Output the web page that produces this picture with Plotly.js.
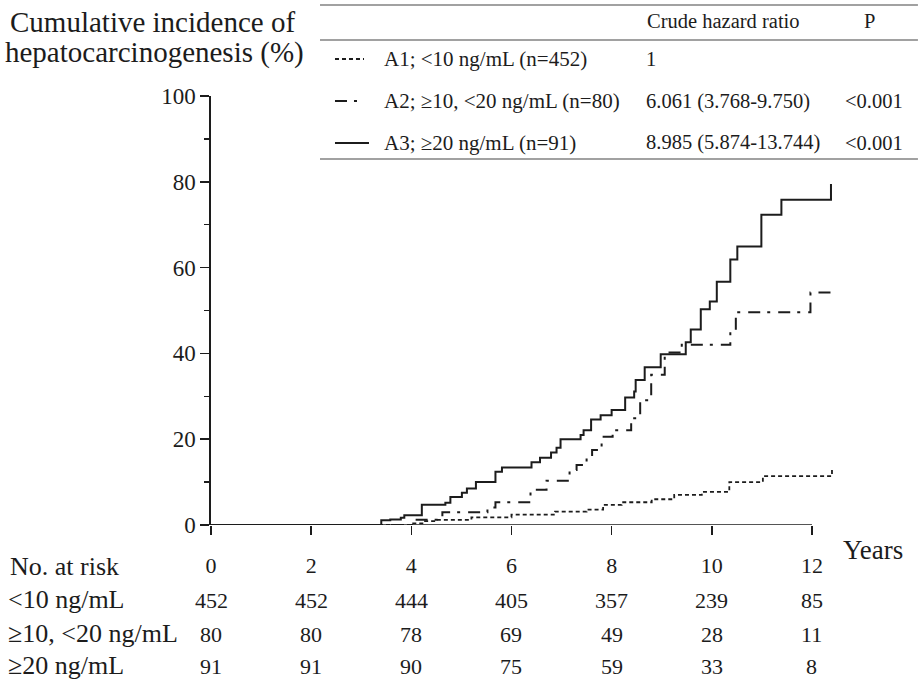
<!DOCTYPE html>
<html>
<head>
<meta charset="utf-8">
<script src="https://cdn.plot.ly/plotly-3.0.1.min.js"></script>
<style>
html,body{margin:0;padding:0;background:#fff;}
#chart{width:922px;height:683px;}
</style>
</head>
<body>
<div id="chart"></div>
<script>
// ---------- data ----------
const yearTicks = [0, 2, 4, 6, 8, 10, 12];

// A1: <10 ng/mL (dotted)
const a1Years = [0, 4.00, 4.25, 4.50, 5.20, 6.00, 6.87, 7.50, 7.83, 8.20, 8.80, 9.25, 9.80, 10.35, 11.02, 12.40];
const a1Incidence = [0, 0.4, 0.9, 1.2, 1.8, 2.4, 3.1, 3.6, 4.7, 5.3, 6.0, 7.0, 7.7, 10.0, 11.4, 12.8];

// A2: >=10, <20 ng/mL (dash-dot)
const a2Years = [0, 4.05, 4.62, 5.52, 5.68, 6.38, 6.70, 7.16, 7.30, 7.50, 7.61, 7.80, 8.02, 8.39, 8.57, 8.79, 9.06, 9.40, 10.37, 10.48, 11.97, 12.43];
const a2Incidence = [0, 1.25, 3.0, 4.1, 5.3, 8.2, 10.3, 12.8, 14.0, 15.5, 17.5, 20.6, 22.1, 24.9, 29.1, 35.0, 40.2, 42.0, 45.1, 49.6, 54.2, 54.2];

// A3: >=20 ng/mL (solid)
const a3Years = [0, 3.40, 3.58, 3.79, 3.86, 4.21, 4.68, 4.78, 5.01, 5.11, 5.29, 5.68, 5.81, 6.40, 6.57, 6.79, 6.90, 6.98, 7.38, 7.44, 7.59, 7.78, 8.00, 8.27, 8.45, 8.48, 8.66, 8.98, 9.48, 9.58, 9.78, 9.96, 10.10, 10.37, 10.51, 10.99, 11.39, 12.38];
const a3Incidence = [0, 1.1, 1.3, 1.7, 2.3, 4.7, 5.2, 6.5, 7.5, 8.5, 10.0, 12.4, 13.4, 14.6, 15.7, 16.9, 18.0, 20.0, 21.0, 22.1, 24.6, 25.6, 26.8, 29.7, 31.1, 33.8, 36.8, 39.8, 42.6, 45.6, 50.3, 52.1, 56.7, 61.9, 64.9, 72.3, 75.8, 79.5];

// number at risk
const riskLabels = ["<10 ng/mL", "\u226510, <20 ng/mL", "\u226520 ng/mL"];
const riskA1 = [452, 452, 444, 405, 357, 239, 85];
const riskA2 = [80, 80, 78, 69, 49, 28, 11];
const riskA3 = [91, 91, 90, 75, 59, 33, 8];

// legend table
const groupLabels = ["A1; <10 ng/mL (n=452)", "A2; \u226510, <20 ng/mL (n=80)", "A3; \u226520 ng/mL (n=91)"];
const hazardRatios = ["1", "6.061 (3.768-9.750)", "8.985 (5.874-13.744)"];
const pValues = ["", "<0.001", "<0.001"];

// ---------- styling / geometry ----------
const FONT = "Liberation Serif";
const INK = "#1c1c1c";
const W = 922, H = 683;
const ML = 211, MT = 96, MB = 158;
const XMAX = 12.6;
const PXPERYEAR = (812 - 211) / 12;
const plotW = XMAX * PXPERYEAR;
const MR = W - ML - plotW;
const plotH = H - MT - MB;
const px2paperX = px => (px - ML) / plotW;
const px2paperY = py => (H - MB - py) / plotH;

const dashStyles = ["4px,3px", "12px,7px,3px,8px", "solid"];
const lineWidths = [1.8, 2, 2];

const traces = [
  {x: a1Years, y: a1Incidence},
  {x: a2Years, y: a2Incidence},
  {x: a3Years, y: a3Incidence}
].map((d, i) => ({
  x: d.x, y: d.y, type: "scatter", mode: "lines",
  line: {shape: "hv", color: INK, width: lineWidths[i], dash: dashStyles[i]},
  showlegend: false, hoverinfo: "skip", cliponaxis: false
}));

const annotations = [];
const shapes = [];

// y axis title (two lines)
annotations.push({xref: "paper", yref: "paper", x: px2paperX(152), y: px2paperY(22),
  text: "Cumulative incidence of", showarrow: false, xanchor: "center", yanchor: "middle",
  font: {family: FONT, size: 29, color: INK}});
annotations.push({xref: "paper", yref: "paper", x: px2paperX(154), y: px2paperY(53),
  text: "hepatocarcinogenesis (%)", showarrow: false, xanchor: "center", yanchor: "middle",
  font: {family: FONT, size: 29, color: INK}});

// Years label
annotations.push({xref: "paper", yref: "paper", x: px2paperX(873), y: px2paperY(550),
  text: "Years", showarrow: false, xanchor: "center", yanchor: "middle",
  font: {family: FONT, size: 27, color: INK}});

// risk table
annotations.push({xref: "paper", yref: "paper", x: px2paperX(8), y: px2paperY(566),
  text: "No. at risk", showarrow: false, xanchor: "left", yanchor: "middle",
  font: {family: FONT, size: 26, color: INK}});
const riskRowsY = [599, 633, 665];
const riskRows = [riskA1, riskA2, riskA3];
riskLabels.forEach((lab, r) => {
  annotations.push({xref: "paper", yref: "paper", x: px2paperX(6), y: px2paperY(riskRowsY[r]),
    text: lab, showarrow: false, xanchor: "left", yanchor: "middle",
    font: {family: FONT, size: 26, color: INK}});
  riskRows[r].forEach((n, k) => {
    annotations.push({xref: "x", yref: "paper", x: yearTicks[k], y: px2paperY(riskRowsY[r] + 1),
      text: String(n), showarrow: false, xanchor: "center", yanchor: "middle",
      font: {family: FONT, size: 22, color: INK}});
  });
});

// legend table
const tblRules = [5, 40, 159];
tblRules.forEach(py => shapes.push({type: "line", xref: "paper", yref: "paper",
  x0: px2paperX(320), x1: px2paperX(918), y0: px2paperY(py), y1: px2paperY(py),
  line: {color: "#444", width: 1.2}}));
annotations.push({xref: "paper", yref: "paper", x: px2paperX(645), y: px2paperY(21),
  text: "Crude hazard ratio", showarrow: false, xanchor: "left", yanchor: "middle",
  font: {family: FONT, size: 20.5, color: INK}});
annotations.push({xref: "paper", yref: "paper", x: px2paperX(870), y: px2paperY(21),
  text: "P", showarrow: false, xanchor: "center", yanchor: "middle",
  font: {family: FONT, size: 20.5, color: INK}});
const tblRowsY = [59, 101, 143];
const sampleEnds = [364, 364, 369];
groupLabels.forEach((lab, r) => {
  const py = tblRowsY[r];
  shapes.push({type: "line", xref: "paper", yref: "paper",
    x0: px2paperX(335), x1: px2paperX(sampleEnds[r]), y0: px2paperY(py), y1: px2paperY(py),
    line: {color: INK, width: lineWidths[r], dash: dashStyles[r]}});
  annotations.push({xref: "paper", yref: "paper", x: px2paperX(382), y: px2paperY(py),
    text: lab, showarrow: false, xanchor: "left", yanchor: "middle",
    font: {family: FONT, size: 21, color: INK}});
  annotations.push({xref: "paper", yref: "paper", x: px2paperX(644), y: px2paperY(py),
    text: hazardRatios[r], showarrow: false, xanchor: "left", yanchor: "middle",
    font: {family: FONT, size: 20.5, color: INK}});
  if (pValues[r]) annotations.push({xref: "paper", yref: "paper", x: px2paperX(843), y: px2paperY(py),
    text: pValues[r], showarrow: false, xanchor: "left", yanchor: "middle",
    font: {family: FONT, size: 20.5, color: INK}});
});

// x axis line only from 0 to 12
shapes.push({type: "line", xref: "x", yref: "y", x0: yearTicks[0], x1: yearTicks[yearTicks.length - 1], y0: 0, y1: 0,
  line: {color: INK, width: 1.6}, layer: "above"});

const layout = {
  width: W, height: H,
  margin: {l: ML, r: MR, t: MT, b: MB, pad: 0},
  paper_bgcolor: "#fff", plot_bgcolor: "rgba(0,0,0,0)",
  font: {family: FONT, color: INK},
  xaxis: {
    range: [0, XMAX], tickvals: yearTicks, ticktext: yearTicks.map(String),
    showline: false, showgrid: false, zeroline: false,
    ticks: "outside", ticklen: 9, tickwidth: 1.5, tickcolor: INK,
    ticklabelstandoff: 12,
    tickfont: {family: FONT, size: 22, color: INK}
  },
  yaxis: {
    range: [0, 100], tickvals: [0, 20, 40, 60, 80, 100],
    showline: true, linewidth: 1.6, linecolor: INK,
    showgrid: false, zeroline: false,
    ticks: "outside", ticklen: 9, tickwidth: 1.5, tickcolor: INK,
    minor: {tickvals: [10, 30, 50, 70, 90], ticks: "outside", ticklen: 5, tickwidth: 1.3, tickcolor: INK, showgrid: false},
    tickfont: {family: FONT, size: 23, color: INK}
  },
  shapes: shapes,
  annotations: annotations,
  showlegend: false
};

Plotly.newPlot("chart", traces, layout, {staticPlot: true, displayModeBar: false});
</script>
</body>
</html>
